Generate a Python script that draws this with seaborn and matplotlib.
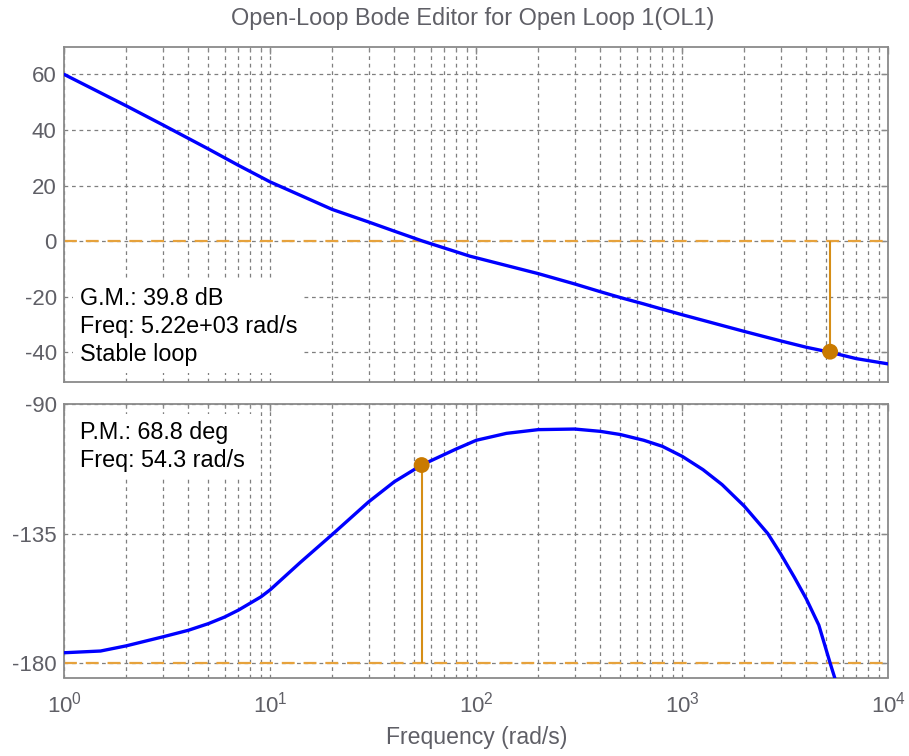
import numpy as np
import pandas as pd
import matplotlib
matplotlib.use("Agg")
import matplotlib.pyplot as plt
import seaborn as sns

# ---- data ----
mag_freq = [1, 2, 3, 4, 5, 7, 10, 20, 30, 40, 55, 93, 100, 200, 300, 400, 500, 650, 800,
            1000, 2000, 3000, 4000, 5220, 7000, 10000]
mag_db = [60, 48.7, 41.9, 37.0, 33.2, 27.3, 21.3, 11.4, 6.9, 3.6, 0.0, -5.4, -6.0, -11.7,
          -15.4, -18.2, -20.3, -22.6, -24.5, -26.5, -32.5, -35.9, -38.2, -40.0, -42.3, -44.2]

ph_freq = [1, 1.5, 2, 3, 4, 5, 6, 7, 9, 10, 14, 20, 30, 40, 54.3, 80, 100, 140, 200, 300,
           400, 500, 650, 800, 1000, 1260, 1560, 2000, 2600, 3000, 3500, 4000, 4600, 5220, 5500]
ph_deg = [-176.4, -175.8, -174.0, -170.9, -168.6, -166.3, -164.0, -161.6, -157.0, -154.5,
          -145.0, -135.3, -124.0, -117.0, -111.2, -105.6, -102.6, -100.2, -98.9, -98.7,
          -99.5, -100.6, -102.6, -104.7, -108.2, -112.8, -118.0, -125.5, -135.0, -142.0,
          -150.2, -157.7, -166.8, -180.0, -185.2]

gm_db = 39.8
gm_freq = 5220
pm_deg = 68.8
pm_freq = 54.3

mag_ticks = [-40, -20, 0, 20, 40, 60]
ph_ticks = [-180, -135, -90]
title = "Open-Loop Bode Editor for Open Loop 1(OL1)"
xlabel = "Frequency (rad/s)"
gm_text = ["G.M.: 39.8 dB", "Freq: 5.22e+03 rad/s", "Stable loop"]
pm_text = ["P.M.: 68.8 deg", "Freq: 54.3 rad/s"]

mag_df = pd.DataFrame({"freq": mag_freq, "mag": mag_db})
ph_df = pd.DataFrame({"freq": ph_freq, "phase": ph_deg})

# ---- style ----
sns.set_style("white")
FONT = ["Liberation Sans", "DejaVu Sans"]
plt.rcParams["font.family"] = FONT
plt.rcParams["mathtext.default"] = "regular"
plt.rcParams["axes.unicode_minus"] = False

GRID = "#7f7f7f"
FRAME = "#8a8a8a"
LABEL = "#5f5f66"
BLUE = "#0000ff"
ORANGE_D = "#e6a23c"
ORANGE_L = "#d68e16"
ORANGE_M = "#c97a00"

fig = plt.figure(figsize=(9.09, 7.56), dpi=100)
W, H = 909, 756
x0, x1 = 64.3, 888.3
ax1 = fig.add_axes([x0 / W, 1 - 381.7 / H, (x1 - x0) / W, (381.7 - 46.7) / H])
ax2 = fig.add_axes([x0 / W, 1 - 677.5 / H, (x1 - x0) / W, (677.5 - 404.0) / H])

for ax in (ax1, ax2):
    ax.set_xscale("log")
    ax.set_xlim(1, 1e4)
    ax.grid(True, which="major", axis="both", color=GRID, linestyle=(0, (3, 3)), linewidth=0.9)
    ax.grid(True, which="minor", axis="x", color=GRID, linestyle=(0, (3, 3)), linewidth=0.9)
    ax.set_axisbelow(True)
    for s in ax.spines.values():
        s.set_color(FRAME)
        s.set_linewidth(1.3)
    ax.tick_params(which="both", direction="in", top=True, right=True, colors=FRAME,
                   labelcolor=LABEL, labelsize=16)
    ax.tick_params(which="major", length=5, width=1)
    ax.tick_params(which="minor", length=3, width=0.8)
    ax.tick_params(axis="y", pad=5.5)

DASH = (0, (5.8, 4))

# magnitude
ax1.set_ylim(-50.6, 70)
ax1.set_yticks(mag_ticks)
ax1.axhline(0, color=ORANGE_D, linestyle=DASH, linewidth=1.6, zorder=2)
sns.lineplot(data=mag_df, x="freq", y="mag", ax=ax1, color=BLUE, linewidth=2.4,
             sort=False, zorder=3)
ax1.vlines(gm_freq, -gm_db, 0, color=ORANGE_L, linewidth=1.5, zorder=4)
sns.scatterplot(x=[gm_freq], y=[-gm_db], ax=ax1, color=ORANGE_M, s=130, edgecolor="none",
                zorder=5)
ax1.tick_params(labelbottom=False)
ax1.set_xlabel("")
ax1.set_ylabel("")
ax1.text(0.019, 0.283, "\n".join(gm_text), transform=ax1.transAxes, ha="left", va="top",
         fontsize=16.8, color="black", linespacing=1.27, zorder=6,
         bbox=dict(boxstyle="square,pad=0.3", facecolor="white", edgecolor="none"))

# phase
ax2.set_ylim(-185, -90)
ax2.set_yticks(ph_ticks)
ax2.axhline(-180, color=ORANGE_D, linestyle=DASH, linewidth=1.6, zorder=2)
sns.lineplot(data=ph_df, x="freq", y="phase", ax=ax2, color=BLUE, linewidth=2.4,
             sort=False, zorder=3)
ax2.vlines(pm_freq, -180, pm_deg - 180, color=ORANGE_L, linewidth=1.5, zorder=4)
sns.scatterplot(x=[pm_freq], y=[pm_deg - 180], ax=ax2, color=ORANGE_M, s=130,
                edgecolor="none", zorder=5)
ax2.set_ylabel("")
ax2.set_xlabel(xlabel, fontsize=16.6, color=LABEL, labelpad=6)
ax2.text(0.019, 0.937, "\n".join(pm_text), transform=ax2.transAxes, ha="left", va="top",
         fontsize=16.8, color="black", linespacing=1.27, zorder=6,
         bbox=dict(boxstyle="square,pad=0.3", facecolor="white", edgecolor="none"))
ax2.tick_params(axis="x", which="major", pad=10)

fig.text(473 / W, 1 - 19 / H, title, ha="center", va="center", fontsize=16.9, color=LABEL)

fig.savefig("out.png", dpi=100)
